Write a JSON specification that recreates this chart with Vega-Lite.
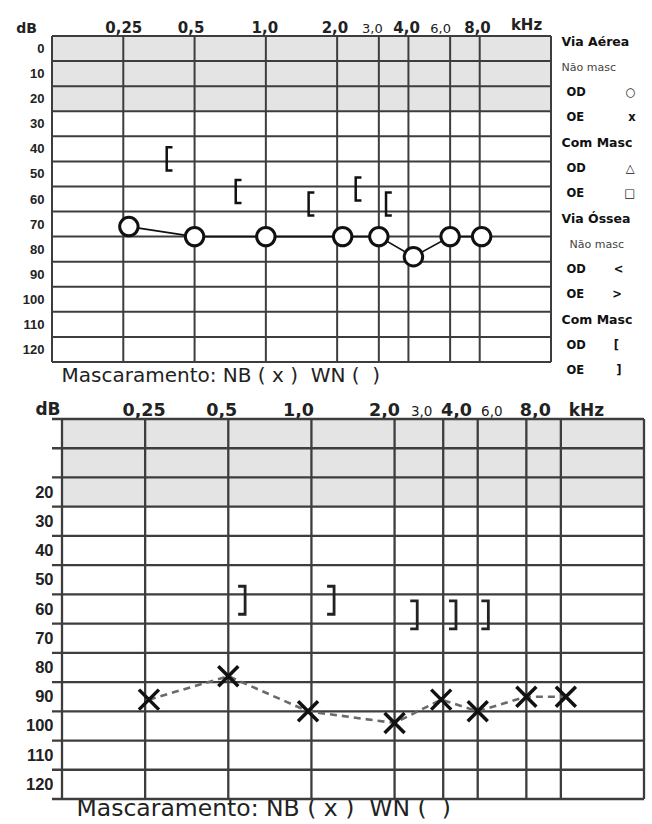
{
  "$schema": "https://vega.github.io/schema/vega-lite/v6.json",
  "background": "white",
  "padding": {"left": 15, "top": 17, "right": 0, "bottom": 0},
  "columns": 1,
  "spacing": 15,
  "config": {"view": {"stroke": null}, "font": "DejaVu Sans"},
  "datasets": {
    "hgrid": [{"g": -5}, {"g": 5}, {"g": 15}, {"g": 25}, {"g": 35}, {"g": 45}, {"g": 55}, {"g": 65}, {"g": 75}, {"g": 85}, {"g": 95}, {"g": 105}, {"g": 115}, {"g": 125}],
    "vgrid": [{"g": 0.125}, {"g": 0.25}, {"g": 0.5}, {"g": 1}, {"g": 2}, {"g": 3}, {"g": 4}, {"g": 6}, {"g": 8}, {"g": 16}],
    "top_air": [{"f": 0.264, "db": 71}, {"f": 0.5, "db": 75}, {"f": 1, "db": 75}, {"f": 2.11, "db": 75}, {"f": 3, "db": 75}, {"f": 4.2, "db": 83}, {"f": 6, "db": 75}, {"f": 8.15, "db": 75}],
    "top_bone": [{"f": 0.39, "db": 44}, {"f": 0.763, "db": 57}, {"f": 1.55, "db": 62}, {"f": 2.45, "db": 56}, {"f": 3.29, "db": 62}],
    "bottom_air": [{"f": 0.258, "db": 91}, {"f": 0.5, "db": 83}, {"f": 0.972, "db": 95}, {"f": 2.0, "db": 99}, {"f": 2.95, "db": 91}, {"f": 4.0, "db": 95}, {"f": 6.0, "db": 90}, {"f": 8.34, "db": 90}],
    "bottom_bone": [{"f": 0.562, "db": 57}, {"f": 1.18, "db": 57}, {"f": 2.36, "db": 62}, {"f": 3.26, "db": 62}, {"f": 4.27, "db": 62}]
  },
  "concat": [
    {
      "width": 499,
      "height": 326,
      "resolve": {"axis": {"x": "independent", "y": "independent"}},
      "layer": [
        {
          "data": {"values": [{}]},
          "mark": {"type": "rect", "fill": "#e4e4e4"},
          "encoding": {
            "x": {"datum": 0.125, "type": "quantitative", "scale": {"type": "log", "domain": [0.125, 16], "nice": false}, "axis": null},
            "x2": {"datum": 16},
            "y": {"datum": -5, "type": "quantitative", "scale": {"domain": [-5, 125], "reverse": true, "nice": false, "zero": false}, "axis": null},
            "y2": {"datum": 25}
          }
        },
        {
          "data": {"name": "vgrid"},
          "mark": {"type": "rule", "stroke": "#3d3d3d", "strokeWidth": 2},
          "encoding": {
            "x": {"field": "g", "type": "quantitative", "scale": {"type": "log", "domain": [0.125, 16], "nice": false},
              "axis": {
                "orient": "top", "values": [0.25, 0.5, 1, 2, 3, 4, 6, 8],
                "labelExpr": "replace(format(datum.value, datum.value < 0.3 ? '.2f' : '.1f'), '.', ',')",
                "grid": false, "ticks": false, "tickSize": 0, "domain": false,
                "labelOverlap": false, "labelFlush": false, "labelPadding": 4,
                "labelBaseline": "alphabetic", "labelAlign": "center",
                "labelFont": "DejaVu Sans", "labelColor": "#222",
                "labelFontSize": {"condition": {"test": "datum.value == 3 || datum.value == 6", "value": 13}, "value": 15},
                "labelFontWeight": {"condition": {"test": "datum.value == 3 || datum.value == 6", "value": "normal"}, "value": "bold"},
                "labelOffset": {"condition": [
                  {"test": "datum.value == 0.5", "value": -4},
                  {"test": "datum.value == 1", "value": -1.5},
                  {"test": "datum.value == 2", "value": -2.7},
                  {"test": "datum.value == 3", "value": -7},
                  {"test": "datum.value == 4", "value": -2.4},
                  {"test": "datum.value == 6", "value": -10},
                  {"test": "datum.value == 8", "value": -2.7}
                ], "value": 0},
                "title": "kHz", "titleX": 474, "titleY": -7, "titleAlign": "center", "titleBaseline": "alphabetic", "titleAngle": 0,
                "titleFont": "DejaVu Sans", "titleFontSize": 15, "titleFontWeight": "bold", "titleColor": "#222"
              }
            }
          }
        },
        {
          "data": {"name": "hgrid"},
          "mark": {"type": "rule", "stroke": "#3d3d3d", "strokeWidth": 2},
          "encoding": {
            "y": {"field": "g", "type": "quantitative", "scale": {"domain": [-5, 125], "reverse": true, "nice": false, "zero": false},
              "axis": {
                "orient": "left", "values": [0, 10, 20, 30, 40, 50, 60, 70, 80, 90, 100, 110, 120],
                "grid": false, "ticks": false, "tickSize": 0, "domain": false,
                "labelPadding": 8, "labelFont": "Liberation Sans", "labelFontWeight": "bold", "labelFontSize": 13,
                "labelColor": "#222", "labelBaseline": "middle", "labelOverlap": false, "labelFlush": false,
                "title": "dB", "titleAngle": 0, "titleX": -26, "titleY": -8, "titleAlign": "center", "titleBaseline": "middle",
                "titleFont": "DejaVu Sans", "titleFontSize": 14, "titleFontWeight": "bold", "titleColor": "#222"
              }
            }
          }
        },
        {
          "data": {"name": "top_air"},
          "mark": {"type": "line", "strokeWidth": 1.6},
          "encoding": {
            "x": {"field": "f", "type": "quantitative", "scale": {"type": "log", "domain": [0.125, 16], "nice": false}, "axis": null},
            "y": {"field": "db", "type": "quantitative", "scale": {"domain": [-5, 125], "reverse": true, "nice": false, "zero": false}, "axis": null},
            "color": {
              "datum": "Via Aérea", "type": "nominal",
              "scale": {
                "domain": ["Via Aérea", "Não masc", "OD\u00a0\u00a0\u00a0\u00a0\u00a0\u00a0\u00a0\u00a0\u00a0\u00a0○", "OE\u00a0\u00a0\u00a0\u00a0\u00a0\u00a0\u00a0\u00a0\u00a0\u00a0\u00a0x", "Com Masc", "OD\u00a0\u00a0\u00a0\u00a0\u00a0\u00a0\u00a0\u00a0\u00a0\u00a0△", "OE\u00a0\u00a0\u00a0\u00a0\u00a0\u00a0\u00a0\u00a0\u00a0\u00a0□", "Via Óssea", "Não masc\u00a0", "OD\u00a0\u00a0\u00a0\u00a0\u00a0\u00a0\u00a0<", "OE\u00a0\u00a0\u00a0\u00a0\u00a0\u00a0\u00a0>", "Com Masc\u00a0", "OD\u00a0\u00a0\u00a0\u00a0\u00a0\u00a0\u00a0[", "OE\u00a0\u00a0\u00a0\u00a0\u00a0\u00a0\u00a0\u00a0]"],
                "range": ["#111", "#111", "#111", "#111", "#111", "#111", "#111", "#111", "#111", "#111", "#111", "#111", "#111", "#111"]
              },
              "legend": {
                "orient": "none", "legendX": 497, "legendY": 0, "title": null, "padding": 0, "offset": 0,
                "direction": "vertical", "columns": 1,
                "symbolType": "square", "symbolSize": 144, "symbolOpacity": 0, "symbolStrokeWidth": 0,
                "symbolFillColor": "transparent", "symbolStrokeColor": "transparent",
                "clipHeight": 12, "rowPadding": 13, "labelOffset": 0,
                "labelFont": "DejaVu Sans, Noto Sans CJK SC", "labelFontSize": 11.5, "labelFontWeight": "bold", "labelColor": "#111",
                "labelLimit": 300, "labelBaseline": "middle", "labelAlign": "left",
                "encode": {"labels": {"update": {
                  "fontSize": {"signal": "substring(datum.label,0,1) === 'N' ? 11 : (substring(datum.label,0,1) === 'O' ? 11.5 : 12.5)"},
                  "fontWeight": {"signal": "substring(datum.label,0,1) === 'N' ? 'normal' : 'bold'"},
                  "fill": {"signal": "substring(datum.label,0,1) === 'N' ? '#444' : '#111'"},
                  "dx": {"signal": "substring(datum.label,0,1) === 'O' ? 5 : ((length(datum.label) > 8 && substring(datum.label,0,1) === 'N') ? 8 : 0)"}
                }}}
              }
            }
          }
        },
        {
          "data": {"name": "top_air"},
          "mark": {"type": "point", "shape": "circle", "size": 340, "filled": true, "fill": "white", "stroke": "#111", "strokeWidth": 3, "opacity": 1},
          "encoding": {
            "x": {"field": "f", "type": "quantitative", "scale": {"type": "log", "domain": [0.125, 16], "nice": false},
              "axis": {
                "orient": "bottom", "labels": false, "ticks": false, "domain": false, "grid": false,
                "title": "Mascaramento: NB ( x )\u00a0 WN ( \u00a0)", "titleX": 9, "titleY": 19, "titleAlign": "left",
                "titleBaseline": "alphabetic", "titleAngle": 0, "titleFont": "DejaVu Sans", "titleFontSize": 20,
                "titleFontWeight": "normal", "titleColor": "#222"
              }
            },
            "y": {"field": "db", "type": "quantitative", "scale": {"domain": [-5, 125], "reverse": true, "nice": false, "zero": false}, "axis": null}
          }
        },
        {
          "data": {"name": "top_bone"},
          "mark": {"type": "point", "shape": "M0.3,-1H-0.2V1H0.3", "size": 530, "filled": false, "stroke": "#111", "strokeWidth": 2.5, "opacity": 1},
          "encoding": {
            "x": {"field": "f", "type": "quantitative", "scale": {"type": "log", "domain": [0.125, 16], "nice": false}, "axis": null},
            "y": {"field": "db", "type": "quantitative", "scale": {"domain": [-5, 125], "reverse": true, "nice": false, "zero": false}, "axis": null}
          }
        }
      ]
    },
    {
      "width": 592,
      "height": 380,
      "resolve": {"axis": {"x": "independent", "y": "independent"}},
      "layer": [
        {
          "data": {"values": [{}]},
          "mark": {"type": "rect", "fill": "#e4e4e4"},
          "encoding": {
            "x": {"datum": 0.125, "type": "quantitative", "scale": {"type": "log", "domain": [0.115, 16], "nice": false}, "axis": null},
            "x2": {"datum": 16},
            "y": {"datum": -5, "type": "quantitative", "scale": {"domain": [-5, 125], "reverse": true, "nice": false, "zero": false}, "axis": null},
            "y2": {"datum": 25}
          }
        },
        {
          "data": {"name": "vgrid"},
          "mark": {"type": "rule", "stroke": "#3d3d3d", "strokeWidth": 2.3},
          "encoding": {
            "x": {"field": "g", "type": "quantitative", "scale": {"type": "log", "domain": [0.115, 16], "nice": false},
              "axis": {
                "orient": "top", "values": [0.25, 0.5, 1, 2, 3, 4, 6, 8],
                "labelExpr": "replace(format(datum.value, datum.value < 0.3 ? '.2f' : '.1f'), '.', ',')",
                "grid": false, "ticks": false, "tickSize": 0, "domain": false,
                "labelOverlap": false, "labelFlush": false, "labelPadding": 4,
                "labelBaseline": "alphabetic", "labelAlign": "center",
                "labelFont": "DejaVu Sans", "labelColor": "#222",
                "labelFontSize": {"condition": {"test": "datum.value == 3 || datum.value == 6", "value": 13.5}, "value": 17.5},
                "labelFontWeight": {"condition": {"test": "datum.value == 3 || datum.value == 6", "value": "normal"}, "value": "bold"},
                "labelOffset": {"condition": [
                  {"test": "datum.value == 0.5", "value": -7},
                  {"test": "datum.value == 1", "value": -13.4},
                  {"test": "datum.value == 2", "value": -10.6},
                  {"test": "datum.value == 3", "value": -22},
                  {"test": "datum.value == 4", "value": -21.7},
                  {"test": "datum.value == 6", "value": -35},
                  {"test": "datum.value == 8", "value": -26}
                ], "value": -1.5},
                "title": "kHz", "titleX": 534, "titleY": -4, "titleAlign": "center", "titleBaseline": "alphabetic", "titleAngle": 0,
                "titleFont": "DejaVu Sans", "titleFontSize": 17, "titleFontWeight": "bold", "titleColor": "#222"
              }
            }
          }
        },
        {
          "data": {"name": "hgrid"},
          "mark": {"type": "rule", "stroke": "#3d3d3d", "strokeWidth": 2.3},
          "encoding": {
            "y": {"field": "g", "type": "quantitative", "scale": {"domain": [-5, 125], "reverse": true, "nice": false, "zero": false},
              "axis": {
                "orient": "left", "values": [20, 30, 40, 50, 60, 70, 80, 90, 100, 110, 120],
                "grid": false, "ticks": false, "tickSize": 0, "domain": false,
                "labelPadding": -1, "labelFont": "Liberation Sans", "labelFontWeight": "bold", "labelFontSize": 16.5,
                "labelColor": "#222", "labelBaseline": "middle", "labelOverlap": false, "labelFlush": false,
                "title": "dB", "titleAngle": 0, "titleX": -4.5, "titleY": -10, "titleAlign": "center", "titleBaseline": "middle",
                "titleFont": "DejaVu Sans", "titleFontSize": 17, "titleFontWeight": "bold", "titleColor": "#222"
              }
            }
          }
        },
        {
          "data": {"name": "bottom_air"},
          "mark": {"type": "line", "stroke": "#6a6a6a", "strokeWidth": 2.6, "strokeDash": [7, 5]},
          "encoding": {
            "x": {"field": "f", "type": "quantitative", "scale": {"type": "log", "domain": [0.115, 16], "nice": false}, "axis": null},
            "y": {"field": "db", "type": "quantitative", "scale": {"domain": [-5, 125], "reverse": true, "nice": false, "zero": false}, "axis": null}
          }
        },
        {
          "data": {"name": "bottom_air"},
          "mark": {"type": "point", "shape": "M-1,-1L1,1M-1,1L1,-1", "size": 400, "filled": false, "stroke": "#111", "strokeWidth": 3.5, "opacity": 1},
          "encoding": {
            "x": {"field": "f", "type": "quantitative", "scale": {"type": "log", "domain": [0.115, 16], "nice": false},
              "axis": {
                "orient": "bottom", "labels": false, "ticks": false, "domain": false, "grid": false,
                "title": "Mascaramento: NB ( x )\u00a0 WN ( \u00a0)", "titleX": 24, "titleY": 16, "titleAlign": "left",
                "titleBaseline": "alphabetic", "titleAngle": 0, "titleFont": "DejaVu Sans", "titleFontSize": 23.5,
                "titleFontWeight": "normal", "titleColor": "#222"
              }
            },
            "y": {"field": "db", "type": "quantitative", "scale": {"domain": [-5, 125], "reverse": true, "nice": false, "zero": false}, "axis": null}
          }
        },
        {
          "data": {"name": "bottom_bone"},
          "mark": {"type": "point", "shape": "M-0.3,-1H0.2V1H-0.3", "size": 784, "filled": false, "stroke": "#222", "strokeWidth": 2.8, "opacity": 1},
          "encoding": {
            "x": {"field": "f", "type": "quantitative", "scale": {"type": "log", "domain": [0.115, 16], "nice": false}, "axis": null},
            "y": {"field": "db", "type": "quantitative", "scale": {"domain": [-5, 125], "reverse": true, "nice": false, "zero": false}, "axis": null}
          }
        }
      ]
    }
  ]
}
